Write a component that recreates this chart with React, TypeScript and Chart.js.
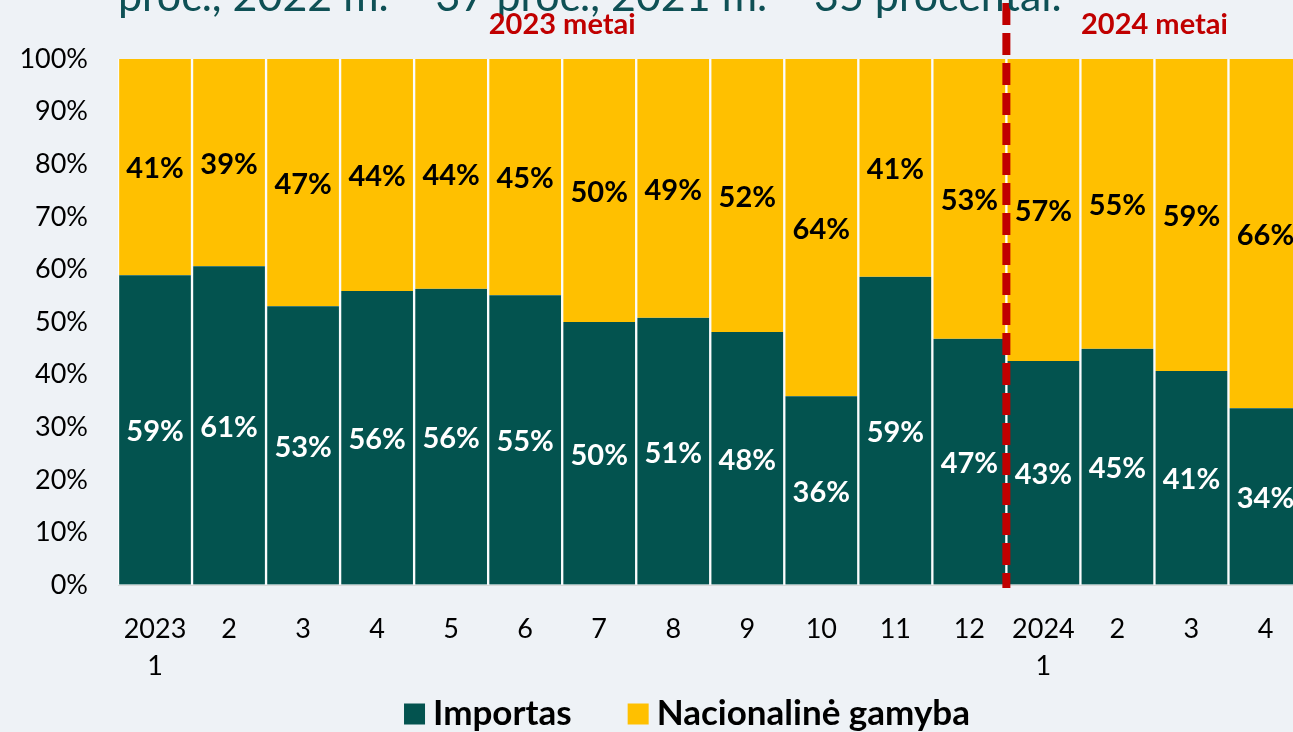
import React, { useEffect, useRef } from "react";
import { Chart, registerables } from "chart.js";

Chart.register(...registerables);

// ---- data ----
const categories: (string | string[])[] = [
  ["2023", "1"], "2", "3", "4", "5", "6", "7", "8", "9", "10", "11", "12",
  ["2024", "1"], "2", "3", "4",
];
const importas = [58.9, 60.6, 53.0, 55.9, 56.3, 55.1, 50.0, 50.8, 48.1, 35.9, 58.6, 46.8, 42.6, 44.9, 40.7, 33.6];
const nacionaline = [41.1, 39.4, 47.0, 44.1, 43.7, 44.9, 50.0, 49.2, 51.9, 64.1, 41.4, 53.2, 57.4, 55.1, 59.3, 66.4];
const seriesNames = ["Importas", "Nacionalinė gamyba"];
const seriesColors = ["#03534f", "#ffc000"];
const labelColors = ["#ffffff", "#000000"];
const titleText = "proc., 2022 m. – 37 proc., 2021 m. – 35 procentai.";
const yearLabels = ["2023 metai", "2024 metai"];
const yearStart = [0, 12];
const yearEnd = [11, 15];
const dividerAfterIndex = 11;

const FONT = "Lato, 'Open Sans', sans-serif";

const overlayPlugin = {
  id: "overlay",
  afterDatasetsDraw(chart: any) {
    const ctx = chart.ctx as CanvasRenderingContext2D;
    const area = chart.chartArea;
    const xs = chart.scales.x;
    // data labels
    chart.data.datasets.forEach((ds: any, di: number) => {
      const meta = chart.getDatasetMeta(di);
      meta.data.forEach((el: any, i: number) => {
        const p = el.getProps(["x", "y", "base"], true);
        ctx.save();
        ctx.font = `bold 29px ${FONT}`;
        ctx.fillStyle = labelColors[di];
        ctx.textAlign = "center";
        ctx.textBaseline = "middle";
        ctx.fillText(Math.round(ds.data[i]) + "%", p.x, (p.y + p.base) / 2 + 2);
        ctx.restore();
      });
    });
    // divider line
    const dx = (xs.getPixelForValue(dividerAfterIndex) + xs.getPixelForValue(dividerAfterIndex + 1)) / 2;
    ctx.save();
    ctx.strokeStyle = "#c00000";
    ctx.lineWidth = 8;
    ctx.setLineDash([22, 8]);
    ctx.lineDashOffset = -3;
    ctx.beginPath();
    ctx.moveTo(dx, 0);
    ctx.lineTo(dx, area.bottom + 3);
    ctx.stroke();
    ctx.restore();
  },
  afterDraw(chart: any) {
    const ctx = chart.ctx as CanvasRenderingContext2D;
    const xs = chart.scales.x;
    // title (cut off at top)
    ctx.save();
    ctx.font = `40px ${FONT}`;
    const w = ctx.measureText(titleText).width;
    const size = (40 * 944) / w;
    ctx.font = `${size}px ${FONT}`;
    ctx.fillStyle = "#0e5055";
    ctx.textAlign = "left";
    ctx.textBaseline = "alphabetic";
    ctx.fillText(titleText, 118, 11);
    ctx.restore();
    // year labels
    yearLabels.forEach((t, k) => {
      const cx = (xs.getPixelForValue(yearStart[k]) + xs.getPixelForValue(yearEnd[k])) / 2;
      ctx.save();
      ctx.font = `bold 29px ${FONT}`;
      ctx.fillStyle = "#c00000";
      ctx.textAlign = "center";
      ctx.textBaseline = "middle";
      ctx.fillText(t, cx, 25);
      ctx.restore();
    });
    // legend
    ctx.save();
    ctx.font = `bold 35px ${FONT}`;
    ctx.textBaseline = "middle";
    ctx.textAlign = "left";
    const box = 21, gapText = 8, gapItem = 56;
    const widths = seriesNames.map((n) => ctx.measureText(n).width);
    const total = widths.reduce((a, b) => a + b, 0) + seriesNames.length * (box + gapText) + gapItem * (seriesNames.length - 1);
    let x = 687 - total / 2;
    const cy = 714;
    seriesNames.forEach((n, i) => {
      ctx.fillStyle = seriesColors[i];
      ctx.fillRect(x, cy - box / 2, box, box);
      x += box + gapText;
      ctx.fillStyle = "#000000";
      ctx.fillText(n, x, cy);
      x += widths[i] + gapItem;
    });
    ctx.restore();
  },
};

export default function App() {
  const ref = useRef<HTMLCanvasElement | null>(null);
  useEffect(() => {
    if (!ref.current) return;
    const chart = new Chart(ref.current, {
      type: "bar",
      data: {
        labels: categories,
        datasets: [
          {
            label: seriesNames[0],
            data: importas,
            backgroundColor: seriesColors[0],
            borderColor: "#fbfcfd",
            borderWidth: { left: 1.5, right: 1.5, top: 0, bottom: 0 },
            borderSkipped: false,
            barPercentage: 1,
            categoryPercentage: 1,
          },
          {
            label: seriesNames[1],
            data: nacionaline,
            backgroundColor: seriesColors[1],
            borderColor: "#fbfcfd",
            borderWidth: { left: 1.5, right: 1.5, top: 0, bottom: 0 },
            borderSkipped: false,
            barPercentage: 1,
            categoryPercentage: 1,
          },
        ],
      },
      options: {
        responsive: false,
        animation: false,
        devicePixelRatio: 1,
        layout: { padding: { left: 0, right: 7.5, top: 59, bottom: 0 } },
        plugins: {
          legend: { display: false },
          title: { display: false },
          tooltip: { enabled: false },
        },
        scales: {
          x: {
            stacked: true,
            grid: { display: false, drawTicks: false },
            border: { display: true, color: "#d9d9d9", width: 1 },
            ticks: {
              color: "#000000",
              font: { family: FONT, size: 27, lineHeight: 1.4 },
              padding: 25,
              maxRotation: 0,
              autoSkip: false,
            },
            afterFit: (s: any) => {
              s.height = 147;
            },
          },
          y: {
            stacked: true,
            min: 0,
            max: 100,
            grid: { color: "#d9d9d9", drawTicks: false },
            border: { display: false },
            ticks: {
              stepSize: 10,
              color: "#000000",
              font: { family: FONT, size: 27 },
              padding: 30,
              callback: (v: any) => v + "%",
            },
            afterFit: (s: any) => {
              s.width = 118;
            },
          },
        },
      },
      plugins: [overlayPlugin],
    });
    return () => chart.destroy();
  }, []);
  return (
    <div
      style={{
        position: "fixed",
        left: 0,
        top: 0,
        width: 1293,
        height: 732,
        overflow: "hidden",
        background: "#eef2f6",
      }}
    >
      <canvas ref={ref} width={1310} height={732} style={{ width: 1310, height: 732, display: "block" }} />
    </div>
  );
}
